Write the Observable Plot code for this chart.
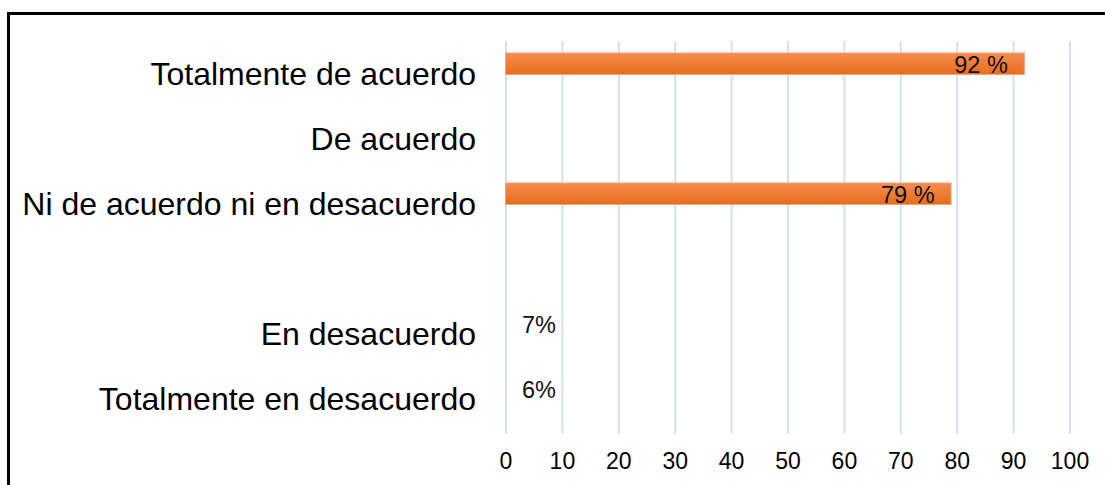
<!DOCTYPE html>
<html>
<head>
<meta charset="utf-8">
<script src="https://cdn.jsdelivr.net/npm/d3@7"></script>
<script src="https://cdn.jsdelivr.net/npm/@observablehq/plot@0.6"></script>
<style>
  html, body { margin: 0; padding: 0; background: #fff; }
  #wrap { position: relative; width: 1105px; height: 485px; overflow: hidden; background: #fff; }
  #frame { position: absolute; left: 7px; top: 12px; width: 1300px; height: 700px;
           border-left: 3px solid #000; border-top: 3px solid #000; }
  #chart { position: absolute; left: 0; top: 0; }
</style>
</head>
<body>
<div id="wrap"><div id="frame"></div><div id="chart"></div></div>
<script>
const categories = [
  "Totalmente de acuerdo",
  "De acuerdo",
  "Ni de acuerdo ni en desacuerdo",
  " ",
  "En desacuerdo",
  "Totalmente en desacuerdo"
];
const barValues = [92, null, 79, null, null, null];
const barLabels = ["92 %", "", "79 %", "", "", ""];
const baseLabels = ["", "", "", "", "7%", "6%"];
const xTicks = [0, 10, 20, 30, 40, 50, 60, 70, 80, 90, 100];

const bars = categories.map((c, i) => ({cat: c, value: barValues[i], label: barLabels[i]}))
  .filter(d => d.value != null);
const bases = categories.map((c, i) => ({cat: c, label: baseLabels[i]}))
  .filter(d => d.label !== "");

const chart = Plot.plot({
  width: 1105,
  height: 485,
  marginLeft: 505.5,
  marginRight: 35.5,
  marginTop: 41.3,
  marginBottom: 51.3,
  style: {fontFamily: "'Liberation Sans', Arial, sans-serif", color: "#000", background: "transparent"},
  x: {domain: [0, 100], label: null},
  y: {domain: categories, padding: 0, label: null},
  marks: [
    Plot.gridX(xTicks, {stroke: "#d9dfe9", strokeWidth: 2, strokeOpacity: 1}),
    Plot.barX(bars, {x: "value", y: "cat", fill: "#ee7a30", stroke: "#f4a474", strokeWidth: 1,
      insetTop: 11, insetBottom: 32.5}),
    Plot.text(bars, {x: "value", y: "cat", text: "label", textAnchor: "end", dx: -17, dy: -10,
      fontSize: 23.5, fill: "#111"}),
    Plot.text(bases, {x: () => 0, y: "cat", text: "label", textAnchor: "start", dx: 16, dy: -10,
      fontSize: 23.5, fill: "#111"}),
    Plot.axisX({ticks: xTicks, tickSize: 0, tickPadding: 18, fontSize: 23, label: null}),
    Plot.axisY({tickSize: 0, tickPadding: 30, fontSize: 32, label: null})
  ]
});

// vertical gradient for bars
const ns = "http://www.w3.org/2000/svg";
const defs = document.createElementNS(ns, "defs");
const grad = document.createElementNS(ns, "linearGradient");
grad.setAttribute("id", "barGrad");
grad.setAttribute("x1", "0"); grad.setAttribute("y1", "0");
grad.setAttribute("x2", "0"); grad.setAttribute("y2", "1");
[["0", "#f38d52"], ["1", "#e86c1b"]].forEach(([o, c]) => {
  const s = document.createElementNS(ns, "stop");
  s.setAttribute("offset", o); s.setAttribute("stop-color", c);
  grad.appendChild(s);
});
defs.appendChild(grad);
chart.insertBefore(defs, chart.firstChild);
const barG = chart.querySelector('g[aria-label="bar"]');
if (barG) barG.setAttribute("fill", "url(#barGrad)");

document.getElementById("chart").appendChild(chart);
</script>
</body>
</html>
